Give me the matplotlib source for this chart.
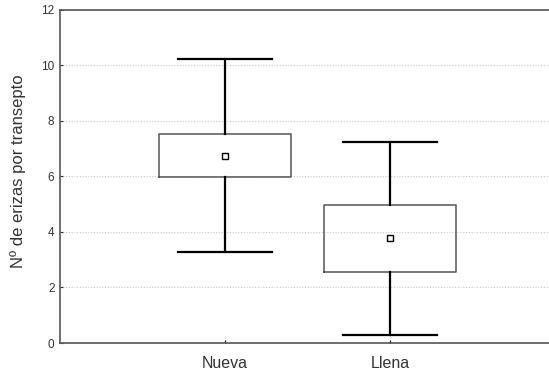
import matplotlib
matplotlib.use("Agg")
import matplotlib.pyplot as plt

categories = ["Nueva", "Llena"]
means = [6.74, 3.77]
box_low = [5.99, 2.55]
box_high = [7.52, 4.96]
whisker_low = [3.28, 0.29]
whisker_high = [10.22, 7.22]
y_ticks = [0, 2, 4, 6, 8, 10, 12]

plt.rcParams['font.family'] = ['Liberation Sans', 'DejaVu Sans']

fig = plt.figure(figsize=(5.49, 3.74), dpi=100)
ax = fig.add_axes([60 / 549, 31 / 374, 495 / 549, 333.5 / 374])

stats = []
for i, name in enumerate(categories):
  stats.append(dict(label=name, mean=means[i], med=means[i],
                    q1=box_low[i], q3=box_high[i],
                    whislo=whisker_low[i], whishi=whisker_high[i], fliers=[]))

ax.bxp(stats, positions=[1, 2], widths=0.806, capwidths=0.57,
       showmeans=True, showfliers=False,
       boxprops=dict(color='#555555', linewidth=1.1),
       medianprops=dict(linewidth=0),
       whiskerprops=dict(color='black', linewidth=1.6),
       capprops=dict(color='black', linewidth=1.6),
       meanprops=dict(marker='s', markersize=4.5, markerfacecolor='white',
                      markeredgecolor='black', markeredgewidth=1))

ax.set_xlim(0, 3)
ax.set_ylim(0, 12)
ax.set_yticks(y_ticks)
ax.set_xticks([1, 2])
ax.set_xticklabels(categories, fontsize=11.5, color='#333333')
ax.tick_params(axis='y', labelsize=8.5, direction='in', length=2, pad=4, colors='#333333')
ax.tick_params(axis='x', direction='in', length=2, pad=9)
ax.yaxis.grid(True, linestyle=(0, (1, 1.5)), color='#c8c8c8', linewidth=0.8)
ax.set_axisbelow(True)

ax.spines['right'].set_visible(False)
for s in ['left', 'bottom', 'top']:
  ax.spines[s].set_color('#555555')
  ax.spines[s].set_linewidth(1.2)

ax.set_ylabel("Nº de erizas por transepto", fontsize=12, color='#333333')
ax.yaxis.set_label_coords(-0.068, 0.515)

fig.savefig("out.png", dpi=100)
